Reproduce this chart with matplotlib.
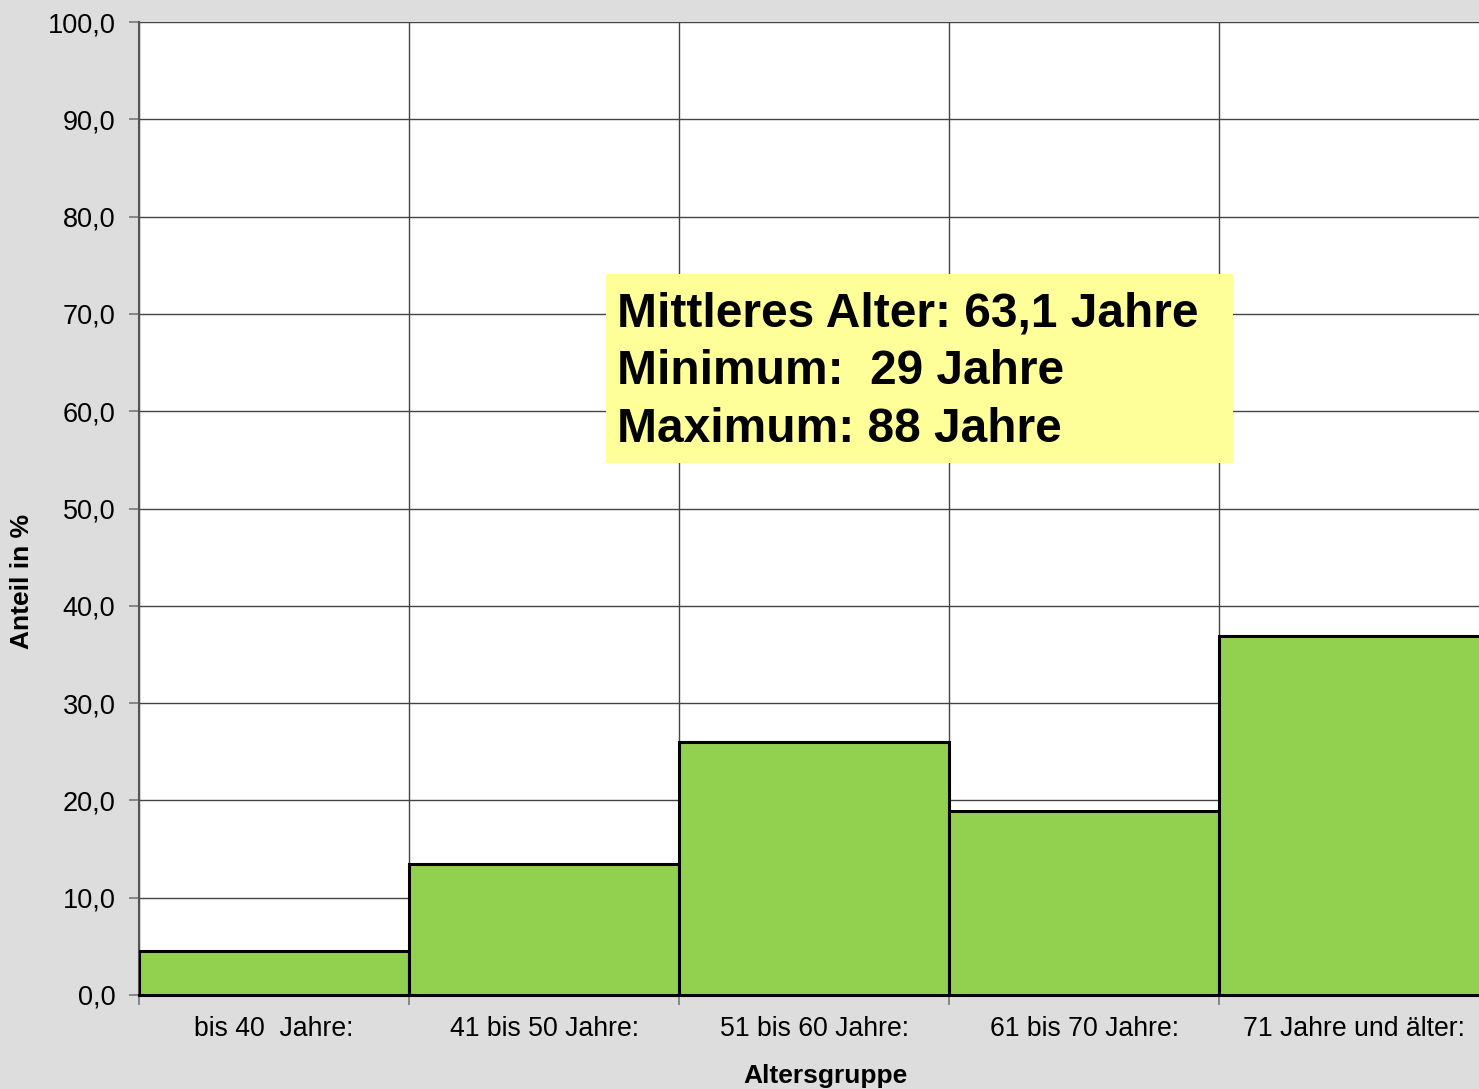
import numpy as np
import matplotlib.pyplot as plt
from matplotlib.ticker import FixedLocator, FuncFormatter

categories = ['bis 40  Jahre:', '41 bis 50 Jahre:', '51 bis 60 Jahre:',
              '61 bis 70 Jahre:', '71 Jahre und älter:']
shares = [4.5, 13.5, 26.0, 18.9, 36.9]
info_lines = ['Mittleres Alter: 63,1 Jahre', 'Minimum:  29 Jahre', 'Maximum: 88 Jahre']

plt.rcParams['font.family'] = ['Liberation Sans', 'DejaVu Sans']

W, H = 1479, 1089
fig = plt.figure(figsize=(W / 100, H / 100), dpi=100)
fig.patch.set_facecolor('#dddddd')

ax = fig.add_axes([139 / W, 1 - 995 / H, (1489 - 139) / W, (995 - 22) / H])
ax.set_facecolor('white')

x = np.arange(len(categories))
ax.bar(x, shares, width=1.0, color='#92d050', edgecolor='black', linewidth=2.2, zorder=3)

ax.set_xlim(-0.5, len(categories) - 0.5)
ax.set_ylim(0, 100)

ax.yaxis.set_major_locator(FixedLocator(np.arange(0, 101, 10)))
ax.yaxis.set_major_formatter(FuncFormatter(lambda v, p: f'{v:.1f}'.replace('.', ',')))
ax.xaxis.set_major_locator(FixedLocator(x - 0.5))
ax.xaxis.set_minor_locator(FixedLocator(x))
ax.set_xticklabels([''] * len(x))
ax.set_xticklabels(categories, minor=True)
ax.tick_params(axis='x', which='minor', length=0, labelsize=19.2, pad=15)
ax.tick_params(axis='x', which='major', length=7, color='#777777', width=1.2)
ax.tick_params(axis='y', length=7, color='#777777', width=1.2, labelsize=19.5, pad=10)

ax.grid(True, which='major', color='#444444', linewidth=1.0, zorder=0)
ax.set_axisbelow(True)

for side in ['top', 'right']:
    ax.spines[side].set_visible(False)
ax.spines['left'].set_color('#555555')
ax.spines['left'].set_linewidth(1.5)
ax.spines['bottom'].set_color('black')
ax.spines['bottom'].set_linewidth(2.2)

# axis titles placed like the original chart
fig.text(825 / W, 1 - 1076 / H, 'Altersgruppe', fontsize=19, fontweight='bold',
         ha='center', va='center')
fig.text(22 / W, 1 - 581 / H, 'Anteil in %', fontsize=19, fontweight='bold',
         ha='center', va='center', rotation=90)

# info box
fig.patches.append(plt.Rectangle((606 / W, 1 - 463 / H), (1233 - 606) / W, (463 - 274) / H,
                                 transform=fig.transFigure, facecolor='#ffff99',
                                 edgecolor='none', zorder=5))
for i, line in enumerate(info_lines):
    fig.text(617 / W, 1 - (314 + i * 57.5) / H, line, fontsize=34.5, fontweight='bold',
             va='center', ha='left', zorder=6)

fig.savefig('out.png', dpi=100, facecolor=fig.get_facecolor())
